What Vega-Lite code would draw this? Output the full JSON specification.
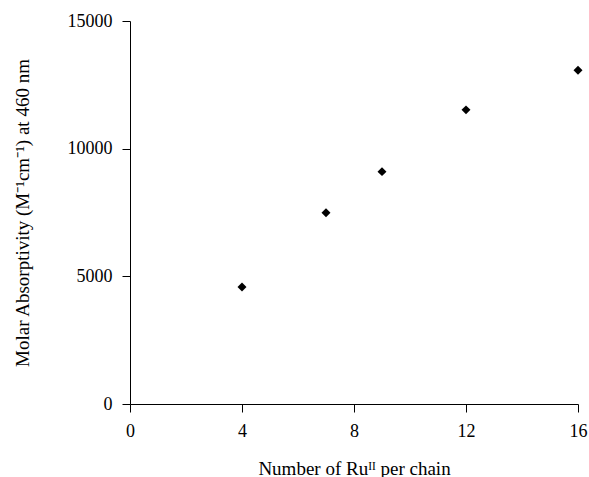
{
  "$schema": "https://vega.github.io/schema/vega-lite/v6.json",
  "width": 448,
  "height": 383,
  "autosize": "none",
  "padding": {"left": 130, "top": 21, "right": 11, "bottom": 73},
  "background": "white",
  "config": {
    "view": {"stroke": null},
    "font": "Liberation Serif",
    "axis": {
      "grid": false,
      "labelFlush": false,
      "labelOverlap": false,
      "domainColor": "black",
      "tickColor": "black",
      "tickSize": 8,
      "labelFont": "Liberation Serif",
      "labelFontSize": 18,
      "labelColor": "black",
      "titleFont": "Liberation Serif",
      "titleFontSize": 19,
      "titleFontWeight": "normal",
      "titleColor": "black"
    }
  },
  "data": {
    "values": [
      {"n": 4, "eps": 4580},
      {"n": 7, "eps": 7490},
      {"n": 9, "eps": 9100},
      {"n": 12, "eps": 11520},
      {"n": 16, "eps": 13070}
    ]
  },
  "mark": {"type": "point", "shape": "diamond", "filled": true, "color": "black", "opacity": 1, "size": 80},
  "encoding": {
    "x": {
      "field": "n", "type": "quantitative",
      "scale": {"domain": [0, 16], "nice": false},
      "axis": {"values": [0, 4, 8, 12, 16], "title": "Number of Ruᴵᴵ per chain", "labelPadding": 10, "titlePadding": 19}
    },
    "y": {
      "field": "eps", "type": "quantitative",
      "scale": {"domain": [0, 15000], "nice": false},
      "axis": {"values": [0, 5000, 10000, 15000], "format": "d", "title": "Molar Absorptivity (M⁻¹cm⁻¹) at 460 nm", "labelPadding": 10, "titlePadding": 35}
    }
  }
}
